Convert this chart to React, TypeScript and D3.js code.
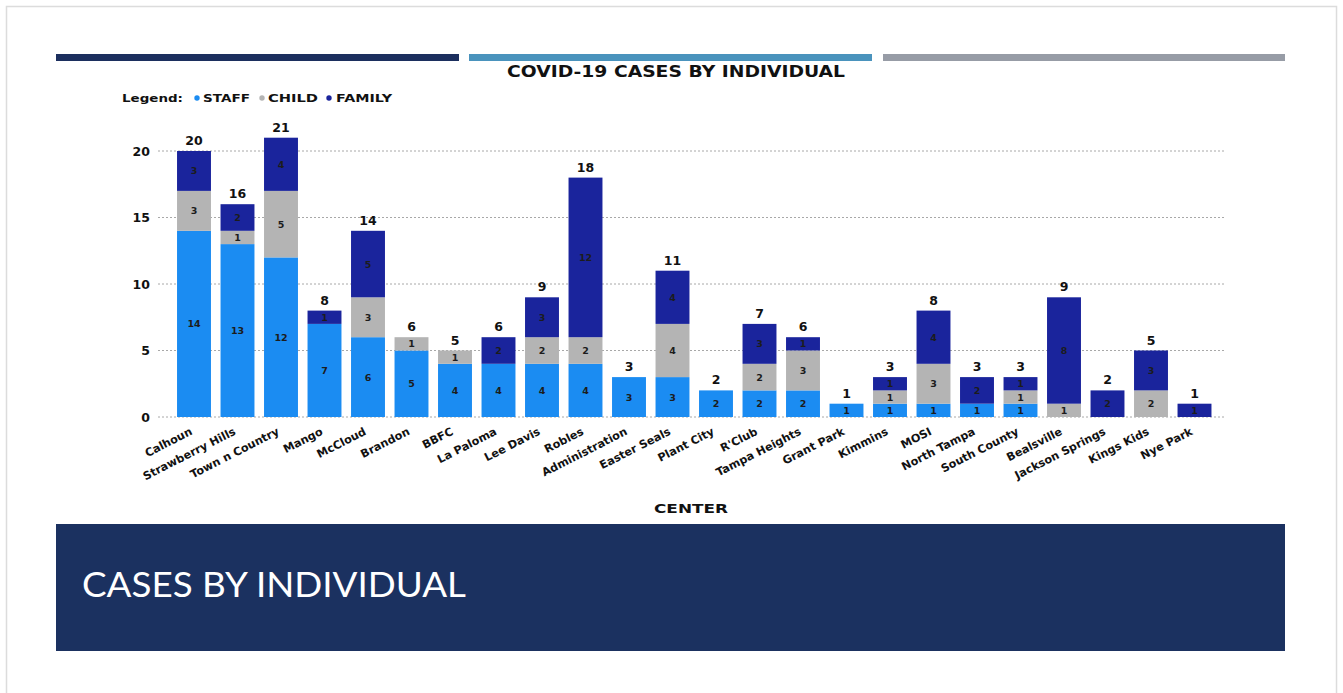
import React from "react";
import * as d3 from "d3";

const categories = [
  "Calhoun", "Strawberry Hills", "Town n Country", "Mango", "McCloud", "Brandon", "BBFC",
  "La Paloma", "Lee Davis", "Robles", "Administration", "Easter Seals", "Plant City", "R'Club",
  "Tampa Heights", "Grant Park", "Kimmins", "MOSI", "North Tampa", "South County", "Bealsville",
  "Jackson Springs", "Kings Kids", "Nye Park",
];
const staff = [14, 13, 12, 7, 6, 5, 4, 4, 4, 4, 3, 3, 2, 2, 2, 1, 1, 1, 1, 1, 0, 0, 0, 0];
const child = [3, 1, 5, 0, 3, 1, 1, 0, 2, 2, 0, 4, 0, 2, 3, 0, 1, 3, 0, 1, 1, 0, 2, 0];
const family = [3, 2, 4, 1, 5, 0, 0, 2, 3, 12, 0, 4, 0, 3, 1, 0, 1, 4, 2, 1, 8, 2, 3, 1];
const yTicks = [0, 5, 10, 15, 20];
const seriesNames = ["STAFF", "CHILD", "FAMILY"];
const seriesColors = ["#1b8cf2", "#b4b4b4", "#1a249c"];

const W = 1343;
const H = 693;
const FONT = "'DejaVu Sans', Verdana, sans-serif";

export default function App() {
  const x = d3
    .scaleBand<string>()
    .domain(categories)
    .range([172.25, 1216.25])
    .paddingInner(0.22)
    .paddingOuter(0.11);
  const y = d3.scaleLinear().domain([0, 20]).range([417, 151]);

  const rows = categories.map((c, i) => ({ c, STAFF: staff[i], CHILD: child[i], FAMILY: family[i] }));
  const stack = d3.stack<any>().keys(seriesNames)(rows);

  const legendItems = [
    { name: "STAFF", dot: 197, tx: 203, len: 47 },
    { name: "CHILD", dot: 262, tx: 268, len: 50 },
    { name: "FAMILY", dot: 329, tx: 336, len: 56 },
  ];

  return (
    <svg width={W} height={H} style={{ position: "absolute", left: 0, top: 0, background: "#fff" }}>
      {/* slide border */}
      <rect x={6.5} y={6.5} width={1330} height={700} fill="#fff" stroke="#dcdcdc" strokeWidth={1.5} />

      {/* top colour strips */}
      <rect x={56} y={54} width={403} height={7} fill="#1c2f5e" />
      <rect x={469} y={54} width={403} height={7} fill="#4a93bd" />
      <rect x={883} y={54} width={402} height={7} fill="#979ca6" />

      {/* title */}
      <text x={507} y={77} fontFamily={FONT} fontWeight={700} fontSize={16} fill="#111" textLength={338} lengthAdjust="spacingAndGlyphs">
        COVID-19 CASES BY INDIVIDUAL
      </text>

      {/* legend */}
      <text x={122} y={102} fontFamily={FONT} fontWeight={700} fontSize={11} fill="#111" textLength={61} lengthAdjust="spacingAndGlyphs">
        Legend:
      </text>
      {legendItems.map((l, i) => (
        <g key={l.name}>
          <circle cx={l.dot} cy={98} r={2.7} fill={seriesColors[i]} />
          <text x={l.tx} y={102} fontFamily={FONT} fontWeight={700} fontSize={11} fill="#111" textLength={l.len} lengthAdjust="spacingAndGlyphs">
            {l.name}
          </text>
        </g>
      ))}

      {/* gridlines */}
      {yTicks.map((t) => (
        <g key={t}>
          <line x1={158} x2={1226} y1={y(t)} y2={y(t)} stroke="#a8a8a8" strokeWidth={1} strokeDasharray="2,2" />
          <text x={150} y={y(t) + 4.5} textAnchor="end" fontFamily={FONT} fontWeight={700} fontSize={12.5} fill="#111">
            {t}
          </text>
        </g>
      ))}

      {/* bars */}
      {stack.map((s, si) => (
        <g key={s.key}>
          {s.map((d: any, i: number) => {
            const v = d[1] - d[0];
            if (v <= 0) return null;
            const x0 = x(categories[i])!;
            return (
              <g key={i}>
                <rect x={x0} y={y(d[1])} width={x.bandwidth()} height={y(d[0]) - y(d[1])} fill={seriesColors[si]} />
                <text
                  x={x0 + x.bandwidth() / 2}
                  y={(y(d[0]) + y(d[1])) / 2 + 3.5}
                  textAnchor="middle"
                  fontFamily={FONT}
                  fontWeight={700}
                  fontSize={9.5}
                  fill="#1c1c1c"
                >
                  {v}
                </text>
              </g>
            );
          })}
        </g>
      ))}

      {/* totals */}
      {categories.map((c, i) => {
        const tot = staff[i] + child[i] + family[i];
        return (
          <text
            key={c}
            x={x(c)! + x.bandwidth() / 2}
            y={y(tot) - 6}
            textAnchor="middle"
            fontFamily={FONT}
            fontWeight={700}
            fontSize={12.5}
            fill="#111"
          >
            {tot}
          </text>
        );
      })}

      {/* x labels */}
      {categories.map((c) => {
        const cx = x(c)! + x.bandwidth() / 2;
        return (
          <text
            key={c}
            transform={`translate(${cx - 1},${434}) rotate(-27)`}
            textAnchor="end"
            fontFamily={FONT}
            fontWeight={700}
            fontSize={11.2}
            fill="#111"
          >
            {c}
          </text>
        );
      })}

      <text x={691} y={513} textAnchor="middle" fontFamily={FONT} fontWeight={700} fontSize={12.5} fill="#111" textLength={74} lengthAdjust="spacingAndGlyphs">
        CENTER
      </text>

      {/* banner */}
      <rect x={56} y={524} width={1229} height={127} fill="#1b3160" />
      <text
        x={82}
        y={597}
        fontFamily="Lato, 'Open Sans', sans-serif"
        fontWeight={400}
        fontSize={35}
        fill="#fff"
        textLength={384}
        lengthAdjust="spacingAndGlyphs"
      >
        CASES BY INDIVIDUAL
      </text>
    </svg>
  );
}
